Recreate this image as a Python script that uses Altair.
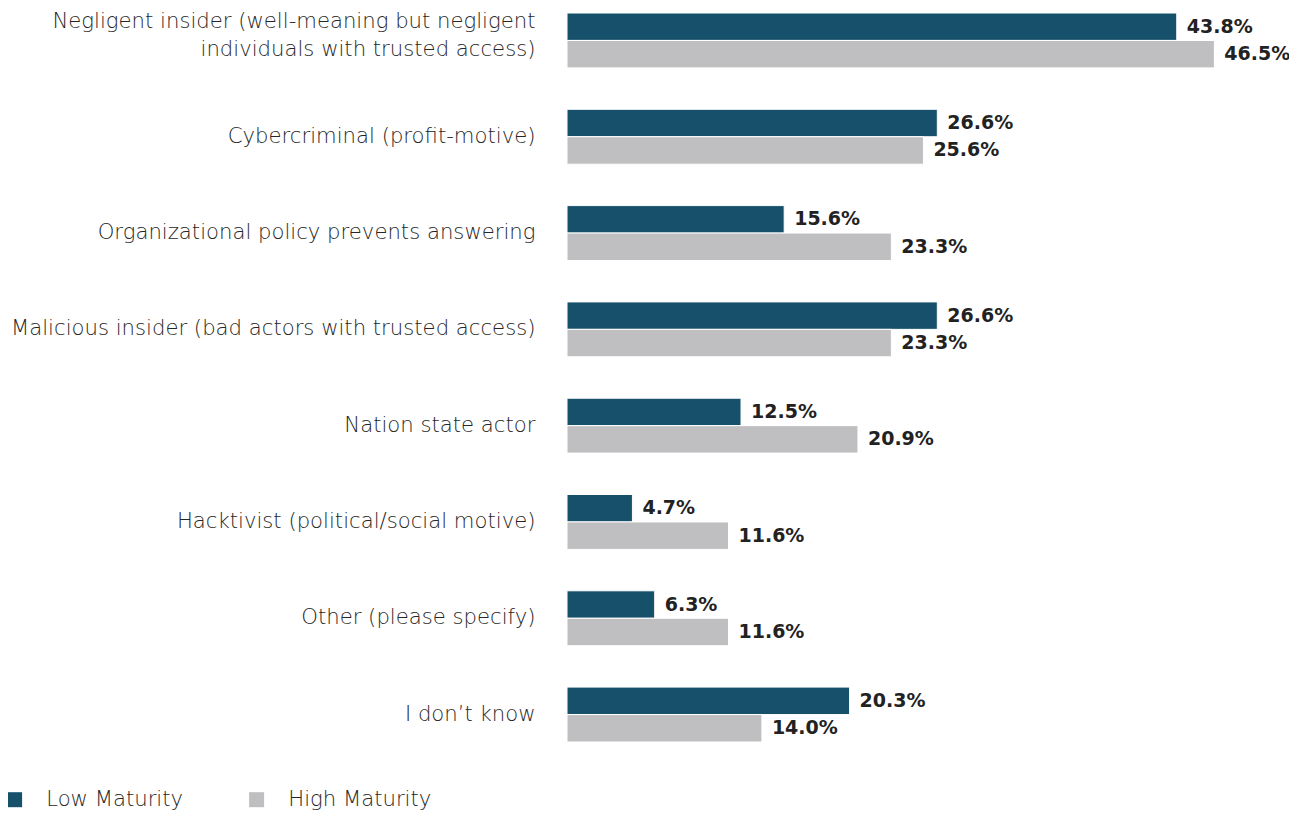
import altair as alt
import pandas as pd

categories = [
    "Negligent insider (well-meaning but negligent|individuals with trusted access)",
    "Cybercriminal (profit-motive)",
    "Organizational policy prevents answering",
    "Malicious insider (bad actors with trusted access)",
    "Nation state actor",
    "Hacktivist (political/social motive)",
    "Other (please specify)",
    "I don\u2019t know",
]
series = ["Low Maturity", "High Maturity"]
low_values = [43.8, 26.6, 15.6, 26.6, 12.5, 4.7, 6.3, 20.3]
high_values = [46.5, 25.6, 23.3, 23.3, 20.9, 11.6, 11.6, 14.0]
colors = ["#17506a", "#bfbfc1"]

rows = []
for c, lo, hi in zip(categories, low_values, high_values):
    rows.append({"category": c, "series": series[0], "value": lo, "label": f"{lo:.1f}%"})
    rows.append({"category": c, "series": series[1], "value": hi, "label": f"{hi:.1f}%"})
df = pd.DataFrame(rows)

FONT = "DejaVu Sans"

y_enc = alt.Y(
    "category:N",
    sort=categories,
    scale=alt.Scale(paddingInner=0.43, paddingOuter=0, round=False),
    axis=alt.Axis(
        title=None, ticks=False, domain=False, labelFontSize=21.2, labelFont=FONT,
        labelFontWeight=300, labelColor="#262626", labelPadding=32, labelLimit=700,
        labelLineHeight=28, labelExpr="split(datum.label, '|')",
        labelOffset={"condition": {"test": "indexof(datum.label, '|') >= 0", "value": -18},
                     "value": 0},
    ),
)
x_enc = alt.X("value:Q", scale=alt.Scale(domain=[0, 51], nice=False), axis=None)
yoff = alt.YOffset("series:N", sort=series)

bars = alt.Chart(df).mark_bar(stroke="white", strokeWidth=1).encode(
    y=y_enc, x=x_enc, yOffset=yoff,
    color=alt.Color(
        "series:N", sort=series,
        scale=alt.Scale(domain=series, range=colors),
        legend=alt.Legend(
            title=None, orient="none", direction="horizontal", legendX=-563, legendY=776,
            padding=0, symbolType="square", symbolSize=225, symbolStrokeWidth=0,
            labelFontSize=21.2, labelFont=FONT, labelFontWeight=300, labelColor="#262626",
            labelOffset=21, columnPadding=62,
        ),
    ),
)

texts = alt.Chart(df).mark_text(
    align="left", baseline="middle", dx=10, fontSize=19, fontWeight="bold",
    font="DejaVu Sans", color="#222222",
).encode(y=y_enc, x=x_enc, yOffset=yoff, text="label:N")

chart = (bars + texts).properties(
    width=710, height=729,
    autosize=alt.AutoSizeParams(type="none"),
    padding={"left": 559, "top": 5, "right": 12, "bottom": 72},
).configure_view(stroke=None)
chart.save("out.html", embed_options={"renderer": "svg", "actions": False})
